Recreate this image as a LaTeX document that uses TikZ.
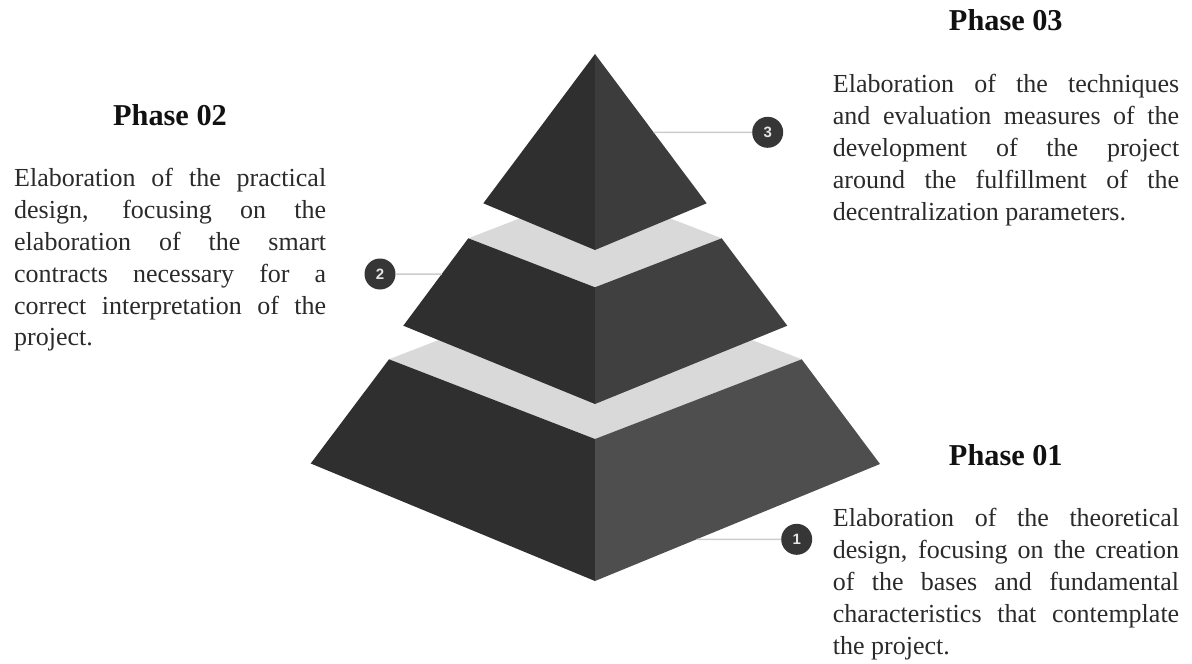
\documentclass[tikz,border=0pt]{standalone}
\usepackage{fontspec}
\setmainfont{Liberation Serif}
\newfontfamily\badgefont{Liberation Sans}
\usetikzlibrary{calc}

\definecolor{faceleft}{HTML}{2F2F2F}
\definecolor{facetop}{HTML}{3C3C3C}
\definecolor{facemid}{HTML}{404040}
\definecolor{facebase}{HTML}{4E4E4E}
\definecolor{ledge}{HTML}{D9D9D9}
\definecolor{badgefill}{HTML}{363636}
\definecolor{leader}{HTML}{CCCCCC}
\definecolor{ink}{HTML}{111111}
\definecolor{bodyink}{HTML}{2A2A2A}

% one justified line of a paragraph
\newcommand\jline[1]{\makebox[\linewidth][s]{#1}}
\newcommand\bodyfont{\fontsize{26}{31.85}\selectfont}
\newcommand\headfont{\fontsize{30.3}{36}\selectfont\bfseries}

\begin{document}
\begin{tikzpicture}[x=1pt,y=-1pt,
  leaderline/.style={draw=leader,line width=1.5pt},
  badge/.style={circle,fill=badgefill,minimum size=31pt,inner sep=0pt,
    text=white!90!black,font=\badgefont\bfseries\fontsize{15}{15}\selectfont},
  heading/.style={anchor=base,inner sep=0pt,text=ink,font=\headfont},
  body/.style={anchor=base west,inner sep=0pt,text=bodyink}]

\useasboundingbox (0,0) rectangle (1192,664);

% ---- corner points of the three slabs ----
% top slab
\coordinate (T0)  at (595,54);
\coordinate (TL)  at (483.3,203.3);
\coordinate (TF)  at (595,250);
\coordinate (TR)  at (706.7,203.3);
% middle slab
\coordinate (ML)  at (468.3,238.3);
\coordinate (MF)  at (595,287.3);
\coordinate (MR)  at (721.7,238.3);
\coordinate (MB)  at (595,189.3);
\coordinate (MBL) at (403.3,325.7);
\coordinate (MBF) at (595,404);
\coordinate (MBR) at (787.3,325.7);
% bottom slab
\coordinate (BL)  at (389,359.3);
\coordinate (BF)  at (595,439);
\coordinate (BR)  at (801.7,359.3);
\coordinate (BB)  at (595,279.3);
\coordinate (BBL) at (310.7,463.5);
\coordinate (BBF) at (595,581);
\coordinate (BBR) at (880,464);

% ---- bottom slab ----
\fill[ledge] (BL) -- (BF) -- (BR) -- (BB) -- cycle;
\fill[faceleft] (BL) -- (BF) -- (BBF) -- (BBL) -- cycle;
\fill[facebase] (BF) -- (BR) -- (BBR) -- (BBF) -- cycle;

% ---- middle slab ----
\fill[ledge] (ML) -- (MF) -- (MR) -- (MB) -- cycle;
\fill[faceleft] (ML) -- (MF) -- (MBF) -- (MBL) -- cycle;
\fill[facemid] (MF) -- (MR) -- (MBR) -- (MBF) -- cycle;

% ---- top slab ----
\fill[faceleft] (T0) -- (TL) -- (TF) -- cycle;
\fill[facetop] (T0) -- (TF) -- (TR) -- cycle;

% ---- numbered badges and leader lines ----
\node[badge] (n3) at (767.7,132.3) {3};
\node[badge] (n2) at (380,274) {2};
\node[badge] (n1) at (796.7,539.3) {1};

\coordinate (e3) at ($(T0)!0.5245!(TR)$);
\coordinate (e2) at ($(ML)!0.4085!(MBL)$);
\coordinate (e1) at ($(BBR)!0.6436!(BBF)$);

\draw[leaderline] (e3) -- (n3.west);
\draw[leaderline] (n2.east) -- (e2);
\draw[leaderline] (e1) -- (n1.west);

% ---- Phase 02 ----
\node[heading] (h2) at (170,125.7) {Phase 02};
\node[body] (t2) at (14,186.7) {\parbox[t]{312pt}{\bodyfont
  \jline{Elaboration of the practical}\\
  \jline{design, focusing on the}\\
  \jline{elaboration of the smart}\\
  \jline{contracts necessary for a}\\
  \jline{correct interpretation of the}\\
  project.}};

% ---- Phase 03 ----
\node[heading] (h3) at (1005.8,30.7) {Phase 03};
\node[body] (t3) at (832.7,92.7) {\parbox[t]{346.3pt}{\bodyfont
  \jline{Elaboration of the techniques}\\
  \jline{and evaluation measures of the}\\
  \jline{development of the project}\\
  \jline{around the fulfillment of the}\\
  decentralization parameters.}};

% ---- Phase 01 ----
\node[heading] (h1) at (1005.8,465) {Phase 01};
\node[body] (t1) at (832.7,526.7) {\parbox[t]{346.3pt}{\bodyfont
  \jline{Elaboration of the theoretical}\\
  \jline{design, focusing on the creation}\\
  \jline{of the bases and fundamental}\\
  \jline{characteristics that contemplate}\\
  the project.}};

\end{tikzpicture}
\end{document}
